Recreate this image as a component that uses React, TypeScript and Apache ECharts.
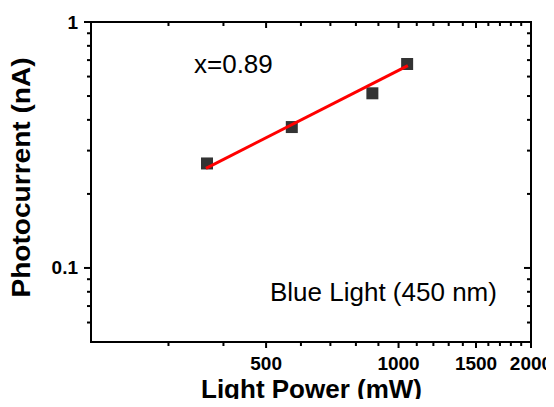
import React, { useEffect, useRef } from "react";
import * as echarts from "echarts";

// Axis ranges (log scales)
const X_MIN = 200;
const X_MAX = 2000;
const Y_MIN = 0.05;
const Y_MAX = 1;

// Tick values
const xMajorTicks = [500, 1000, 1500, 2000];
const xMinorTicks = [300, 400, 600, 700, 800, 900, 1100, 1200, 1300, 1400, 1600, 1700, 1800, 1900];
const yMajorTicks = [0.1, 1];
const yMinorTicks = [0.06, 0.07, 0.08, 0.09, 0.2, 0.3, 0.4, 0.5, 0.6, 0.7, 0.8, 0.9];

// Measured data
const powerValues = [367, 572, 872, 1046];
const currentValues = [0.266, 0.374, 0.513, 0.675];

// Linear fit on log-log (slope 0.89)
const fitPower = [365, 1050];
const fitCurrent = [0.254, 0.665];

const FONT = "'Liberation Sans', Arial, Helvetica, sans-serif";

export default function App() {
  const ref = useRef<HTMLDivElement>(null);

  useEffect(() => {
    if (!ref.current) return;
    const chart = echarts.init(ref.current, null, { renderer: "svg" });

    const xTickData = [
      ...xMajorTicks.map((v) => [v, Y_MIN, 1]),
      ...xMinorTicks.map((v) => [v, Y_MIN, 0]),
    ];
    const yTickData = [
      ...yMajorTicks.map((v) => [X_MIN, v, 1]),
      ...yMinorTicks.map((v) => [X_MIN, v, 0]),
    ];

    const option: any = {
      animation: false,
      backgroundColor: "#ffffff",
      grid: {
        left: 91,
        right: 23,
        top: 22,
        bottom: 65,
        show: true,
        borderColor: "#000",
        borderWidth: 2,
        backgroundColor: "transparent",
      },
      xAxis: {
        type: "log",
        logBase: 10,
        min: X_MIN,
        max: X_MAX,
        axisLine: { show: false },
        axisTick: { show: false },
        axisLabel: { show: false },
        splitLine: { show: false },
        minorTick: { show: false },
      },
      yAxis: {
        type: "log",
        logBase: 10,
        min: Y_MIN,
        max: Y_MAX,
        axisLine: { show: false },
        axisTick: { show: false },
        axisLabel: { show: false },
        splitLine: { show: false },
        minorTick: { show: false },
      },
      graphic: [
        {
          type: "text",
          x: 21,
          y: 177.5,
          rotation: Math.PI / 2,
          scaleX: 1.08,
          style: {
            text: "Photocurrent (nA)",
            fontFamily: FONT,
            fontWeight: "bold",
            fontSize: 26,
            fill: "#000",
            align: "center",
            verticalAlign: "middle",
          },
        },
        {
          type: "text",
          x: 311.5,
          y: 389,
          style: {
            text: "Light Power (mW)",
            fontFamily: FONT,
            fontWeight: "bold",
            fontSize: 26,
            fill: "#000",
            align: "center",
            verticalAlign: "middle",
          },
        },
        {
          type: "text",
          x: 194,
          y: 64,
          style: {
            text: "x=0.89",
            fontFamily: FONT,
            fontSize: 26,
            fill: "#000",
            align: "left",
            verticalAlign: "middle",
          },
        },
        {
          type: "text",
          x: 270,
          y: 292,
          style: {
            text: "Blue Light (450 nm)",
            fontFamily: FONT,
            fontSize: 26,
            fill: "#000",
            align: "left",
            verticalAlign: "middle",
          },
        },
      ],
      series: [
        {
          type: "custom",
          silent: true,
          clip: false,
          z: 10,
          data: xTickData,
          encode: { x: 0, y: 1 },
          renderItem: (params: any, api: any) => {
            const v = api.value(0);
            const major = api.value(2) === 1;
            const b = api.coord([v, Y_MIN]);
            const t = api.coord([v, Y_MAX]);
            const len = major ? 6 : 4;
            const children: any[] = [
              {
                type: "line",
                shape: { x1: b[0], y1: b[1], x2: b[0], y2: b[1] + len },
                style: { stroke: "#000", lineWidth: 2 },
              },
              {
                type: "line",
                shape: { x1: t[0], y1: t[1], x2: t[0], y2: t[1] + len },
                style: { stroke: "#000", lineWidth: 2 },
              },
            ];
            if (major) {
              children.push({
                type: "text",
                x: b[0],
                y: b[1] + 21,
                style: {
                  text: String(v),
                  fontFamily: FONT,
                  fontWeight: "bold",
                  fontSize: 19,
                  fill: "#000",
                  align: "center",
                  verticalAlign: "middle",
                },
              });
            }
            return { type: "group", children };
          },
        },
        {
          type: "custom",
          silent: true,
          clip: false,
          z: 10,
          data: yTickData,
          encode: { x: 0, y: 1 },
          renderItem: (params: any, api: any) => {
            const v = api.value(1);
            const major = api.value(2) === 1;
            const l = api.coord([X_MIN, v]);
            const r = api.coord([X_MAX, v]);
            const len = major ? 7 : 4;
            const children: any[] = [
              {
                type: "line",
                shape: { x1: l[0] - len, y1: l[1], x2: l[0], y2: l[1] },
                style: { stroke: "#000", lineWidth: 2 },
              },
              {
                type: "line",
                shape: { x1: r[0] - len, y1: r[1], x2: r[0], y2: r[1] },
                style: { stroke: "#000", lineWidth: 2 },
              },
            ];
            if (major) {
              children.push({
                type: "text",
                x: l[0] - 13,
                y: l[1],
                style: {
                  text: String(v),
                  fontFamily: FONT,
                  fontWeight: "bold",
                  fontSize: 19,
                  fill: "#000",
                  align: "right",
                  verticalAlign: "middle",
                },
              });
            }
            return { type: "group", children };
          },
        },
        {
          type: "scatter",
          data: powerValues.map((p, i) => [p, currentValues[i]]),
          symbol: "rect",
          symbolSize: 12,
          itemStyle: { color: "#000" },
          z: 3,
        },
        {
          type: "line",
          data: fitPower.map((p, i) => [p, fitCurrent[i]]),
          showSymbol: false,
          symbol: "none",
          lineStyle: { color: "#ff0000", width: 3 },
          z: 4,
        },
      ],
    };

    chart.setOption(option);
    return () => chart.dispose();
  }, []);

  return (
    <div style={{ margin: -8 }}>
      <div ref={ref} style={{ width: 554, height: 407 }} />
    </div>
  );
}
